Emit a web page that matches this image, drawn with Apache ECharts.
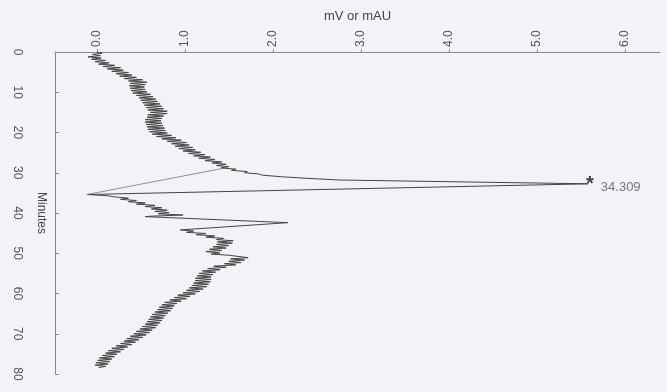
<!DOCTYPE html>
<html>
<head>
<meta charset="utf-8">
<script src="https://cdn.jsdelivr.net/npm/echarts@6/dist/echarts.min.js"></script>
<style>
  html, body { margin: 0; padding: 0; background: #f2f3f7; }
  #chart { width: 667px; height: 392px; }
</style>
</head>
<body>
<div id="chart"></div>
<script>
// ---- data: [minute, mV] ----
const xTickValues = [0, 1, 2, 3, 4, 5, 6];
const yTickValues = [0, 10, 20, 30, 40, 50, 60, 70, 80];
const xAxisTitle = 'mV or mAU';
const yAxisTitle = 'Minutes';
const peakLabel = '34.309';

const riseSegment = [
  [0.0, 0.00], [0.3, 0.06], [0.6, -0.05], [0.9, 0.04], [1.2, -0.10], [1.5, 0.05], [1.8, -0.06],
  [2.1, 0.10], [2.4, -0.02], [2.7, 0.14], [3.0, 0.02], [3.3, 0.20], [3.6, 0.07], [3.9, 0.27],
  [4.2, 0.12], [4.5, 0.30], [4.8, 0.17], [5.1, 0.36], [5.4, 0.22], [5.7, 0.40], [6.0, 0.26],
  [6.3, 0.45], [6.6, 0.31], [6.9, 0.52], [7.2, 0.36], [7.5, 0.57], [7.8, 0.38], [8.1, 0.55],
  [8.4, 0.37], [8.7, 0.54], [9.0, 0.38], [9.3, 0.55], [9.6, 0.39], [9.9, 0.57], [10.2, 0.41],
  [10.5, 0.61], [10.8, 0.45], [11.1, 0.64], [11.4, 0.48], [11.7, 0.67], [12.0, 0.50], [12.3, 0.69],
  [12.6, 0.52], [12.9, 0.72], [13.2, 0.54], [13.5, 0.74], [13.8, 0.56], [14.1, 0.76], [14.4, 0.58],
  [14.7, 0.80], [15.0, 0.61], [15.3, 0.80], [15.6, 0.58], [15.9, 0.76], [16.2, 0.57], [16.5, 0.74],
  [16.8, 0.55], [17.1, 0.73], [17.4, 0.55], [17.7, 0.74], [18.0, 0.56], [18.3, 0.75], [18.6, 0.57],
  [18.9, 0.77], [19.2, 0.58], [19.5, 0.78], [19.8, 0.60], [20.1, 0.80], [20.4, 0.63], [20.7, 0.85],
  [21.0, 0.68], [21.3, 0.90], [21.6, 0.74], [21.9, 0.96], [22.2, 0.80], [22.5, 1.02], [22.8, 0.85],
  [23.1, 1.05], [23.4, 0.89], [23.7, 1.09], [24.0, 0.93], [24.3, 1.12], [24.6, 0.98], [24.9, 1.18],
  [25.2, 1.04], [25.5, 1.23], [25.8, 1.10], [26.1, 1.29], [26.4, 1.16], [26.7, 1.34], [27.0, 1.23],
  [27.3, 1.42], [27.6, 1.31], [27.9, 1.47], [28.2, 1.36], [28.5, 1.50], [28.8, 1.41], [29.1, 1.58],
  [29.4, 1.53], [29.7, 1.71], [30.0, 1.68], [30.3, 1.84], [30.6, 1.88]
];
const peakSegment = [
  [31.0, 2.10], [31.4, 2.40], [31.8, 2.75], [32.75, 5.58], [35.4, -0.11]
];
const fallSegment = [
  [35.7, 0.12], [36.0, 0.20], [36.3, 0.36], [36.6, 0.27], [36.9, 0.45], [37.2, 0.36], [37.5, 0.55],
  [37.8, 0.45], [38.1, 0.66], [38.4, 0.55], [38.7, 0.74], [39.0, 0.62], [39.3, 0.80], [39.6, 0.66],
  [39.9, 0.82], [40.2, 0.70], [40.5, 0.98], [40.8, 0.60], [40.9, 0.55]
];
const secondPeakSegment = [
  [42.4, 2.17], [44.2, 0.95]
];
const tailSegment = [
  [44.5, 1.10], [44.8, 1.02], [45.1, 1.24], [45.4, 1.13], [45.7, 1.34], [46.0, 1.24], [46.3, 1.44],
  [46.6, 1.36], [46.9, 1.55], [47.2, 1.37], [47.5, 1.54], [47.8, 1.36], [48.1, 1.50], [48.4, 1.32],
  [48.7, 1.47], [49.0, 1.28], [49.3, 1.42], [49.6, 1.24], [49.9, 1.40], [50.2, 1.30], [50.5, 1.50],
  [50.8, 1.48], [51.1, 1.72], [51.4, 1.52], [51.7, 1.68], [52.0, 1.50], [52.3, 1.64], [52.6, 1.45],
  [52.9, 1.58], [53.2, 1.33], [53.5, 1.47], [53.8, 1.26], [54.1, 1.40], [54.4, 1.20], [54.7, 1.35],
  [55.0, 1.16], [55.3, 1.32], [55.6, 1.14], [55.9, 1.30], [56.2, 1.12], [56.5, 1.30], [56.8, 1.12],
  [57.1, 1.29], [57.4, 1.10], [57.7, 1.27], [58.0, 1.08], [58.3, 1.25], [58.6, 1.05], [58.9, 1.21],
  [59.2, 1.02], [59.5, 1.17], [59.8, 0.98], [60.1, 1.12], [60.4, 0.92], [60.7, 1.06], [61.0, 0.88],
  [61.3, 1.02], [61.6, 0.83], [61.9, 0.96], [62.2, 0.77], [62.5, 0.91], [62.8, 0.74], [63.1, 0.88],
  [63.4, 0.71], [63.7, 0.86], [64.0, 0.69], [64.3, 0.84], [64.6, 0.66], [64.9, 0.81], [65.2, 0.63],
  [65.5, 0.78], [65.8, 0.61], [66.1, 0.76], [66.4, 0.59], [66.7, 0.74], [67.0, 0.57], [67.3, 0.72],
  [67.6, 0.55], [67.9, 0.69], [68.2, 0.52], [68.5, 0.67], [68.8, 0.49], [69.1, 0.63], [69.4, 0.45],
  [69.7, 0.60], [70.0, 0.42], [70.3, 0.56], [70.6, 0.38], [70.9, 0.52], [71.2, 0.34], [71.5, 0.48],
  [71.8, 0.31], [72.1, 0.44], [72.4, 0.27], [72.7, 0.40], [73.0, 0.22], [73.3, 0.35], [73.6, 0.17],
  [73.9, 0.31], [74.2, 0.13], [74.5, 0.27], [74.8, 0.10], [75.1, 0.23], [75.4, 0.06], [75.7, 0.20],
  [76.0, 0.03], [76.3, 0.17], [76.6, 0.01], [76.9, 0.15], [77.2, -0.01], [77.5, 0.13], [77.8, -0.02],
  [78.1, 0.10], [78.4, 0.02]
];
const connectorSegment = [[35.4, -0.11], [28.8, 1.46]];
const peakPoint = [32.75, 5.58];

// ---- build ----
const toXY = arr => arr.map(p => [p[1], p[0]]);
const trace = toXY([].concat(riseSegment, peakSegment, fallSegment, secondPeakSegment, tailSegment));

const chart = echarts.init(document.getElementById('chart'), null, { renderer: 'canvas' });
const FONT = 'Liberation Sans, Arial, sans-serif';
chart.setOption({
  backgroundColor: '#f2f3f7',
  animation: false,
  grid: { left: 55, top: 52, right: 7, bottom: 18, containLabel: false, outerBoundsMode: 'none' },
  xAxis: {
    type: 'value', position: 'top', min: -0.475, max: 6.4,
    name: xAxisTitle, nameLocation: 'middle', nameGap: 29, nameMoveOverlap: false,
    nameTextStyle: { color: '#444', fontSize: 13, fontFamily: FONT },
    axisLine: { show: true, onZero: false, lineStyle: { color: '#888', width: 1 } },
    axisTick: { show: true, customValues: xTickValues, length: 3, inside: false, lineStyle: { color: '#888' } },
    axisLabel: {
      customValues: xTickValues, rotate: -90, margin: 5, color: '#555', fontSize: 12, fontFamily: FONT,
      formatter: v => v.toFixed(1)
    },
    splitLine: { show: false }
  },
  yAxis: {
    type: 'value', inverse: true, min: 0, max: 80,
    name: yAxisTitle, nameLocation: 'middle', nameGap: 8, nameRotate: -90, nameMoveOverlap: false,
    nameTextStyle: { color: '#444', fontSize: 12, fontFamily: FONT, padding: [0, 0, 0, 0] },
    axisLine: { show: true, onZero: false, lineStyle: { color: '#888', width: 1 } },
    axisTick: { show: true, customValues: yTickValues, length: 4, inside: true, lineStyle: { color: '#888' } },
    axisLabel: {
      customValues: yTickValues, rotate: -90, margin: 32, color: '#555', fontSize: 12, fontFamily: FONT
    },
    splitLine: { show: false }
  },
  series: [
    {
      type: 'line', data: trace, showSymbol: false, symbol: 'none',
      lineStyle: { color: '#444', width: 1 }
    },
    {
      type: 'line', data: toXY(connectorSegment), showSymbol: false, symbol: 'none',
      lineStyle: { color: '#777', width: 0.8 }
    },
    {
      type: 'scatter', symbolSize: 0,
      data: [
        { value: [peakPoint[1], peakPoint[0]],
          label: { show: true, position: 'inside', formatter: '*', offset: [2, 1],
                   color: '#111', fontSize: 20, fontWeight: 'bold', fontFamily: FONT } },
        { value: [peakPoint[1], peakPoint[0]],
          label: { show: true, position: 'right', formatter: peakLabel, offset: [8, 4],
                   color: '#555', fontSize: 13, fontFamily: FONT } }
      ]
    }
  ]
});
</script>
</body>
</html>
